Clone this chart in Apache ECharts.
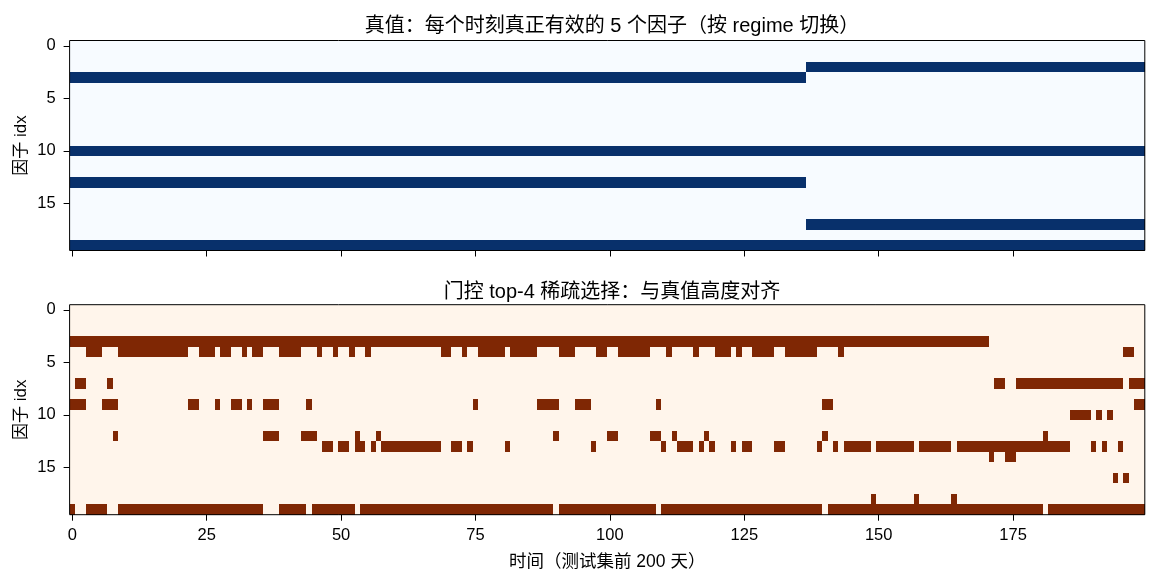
<!DOCTYPE html>
<html>
<head>
<meta charset="utf-8">
<title>regime gate heatmap</title>
<script src="https://cdn.jsdelivr.net/npm/echarts@6/dist/echarts.min.js"></script>
<style>
  html, body { margin: 0; padding: 0; background: #fff; }
  #chart { width: 1156px; height: 584px; }
</style>
</head>
<body>
<div id="chart"></div>
<script>
// ---- data ----
var nTime = 200;
var nFactor = 20;
var timeCategories = [];
for (var t = 0; t < nTime; t++) timeCategories.push(String(t));
var factorCategories = [];
for (var f = 0; f < nFactor; f++) factorCategories.push(String(f));

var xTickLabels = [0, 25, 50, 75, 100, 125, 150, 175];
var yTickLabels = [0, 5, 10, 15];

// ground truth: active factors before / after the regime switch
var truthSwitchAt = 137;
var truthFactorsBefore = [3, 10, 13, 19];
var truthFactorsAfter = [2, 10, 17, 19];

// gate selections, runs of [start, end] (inclusive) per factor row
var gateRow3 = [[0, 170]];
var gateRow4 = [[3, 5], [9, 21], [24, 26], [28, 29], [32, 32], [34, 35], [39, 42], [46, 46], [49, 49], [52, 52],
  [55, 55], [69, 70], [73, 73], [76, 80], [82, 86], [91, 93], [98, 99], [102, 107], [111, 111], [116, 116],
  [120, 122], [124, 124], [127, 130], [133, 138], [143, 143], [196, 197]];
var gateRow7 = [[1, 2], [7, 7], [172, 173], [176, 195], [197, 199]];
var gateRow9 = [[0, 2], [6, 8], [22, 23], [27, 27], [30, 31], [33, 33], [36, 38], [44, 44], [75, 75], [87, 90],
  [94, 96], [109, 109], [140, 141], [198, 199]];
var gateRow10 = [[186, 189], [191, 191], [193, 193]];
var gateRow12 = [[8, 8], [36, 38], [43, 45], [53, 53], [57, 57], [90, 90], [100, 101], [108, 109], [112, 112],
  [118, 118], [140, 140], [181, 181]];
var gateRow13 = [[47, 48], [50, 51], [53, 54], [56, 56], [58, 68], [71, 72], [74, 74], [81, 81], [97, 97],
  [110, 110], [113, 115], [117, 117], [119, 119], [123, 123], [125, 126], [131, 132], [139, 139], [142, 142],
  [144, 148], [150, 156], [158, 163], [165, 185], [190, 190], [192, 192], [195, 195]];
var gateRow14 = [[171, 171], [174, 175]];
var gateRow16 = [[194, 194], [196, 196]];
var gateRow18 = [[149, 149], [157, 157], [164, 164]];
var gateRow19 = [[0, 0], [3, 6], [9, 35], [39, 43], [45, 52], [54, 89], [91, 108], [110, 139], [141, 180], [182, 199]];

var gateRows = [
  [3, gateRow3], [4, gateRow4], [7, gateRow7], [9, gateRow9], [10, gateRow10], [12, gateRow12],
  [13, gateRow13], [14, gateRow14], [16, gateRow16], [18, gateRow18], [19, gateRow19]
];

// ---- build cell grids ----
function emptyGrid() {
  var g = [];
  for (var r = 0; r < nFactor; r++) {
    g.push([]);
    for (var c = 0; c < nTime; c++) g[r].push(0);
  }
  return g;
}

var truthGrid = emptyGrid();
for (var c = 0; c < nTime; c++) {
  var active = c < truthSwitchAt ? truthFactorsBefore : truthFactorsAfter;
  active.forEach(function (r) { truthGrid[r][c] = 1; });
}

var gateGrid = emptyGrid();
gateRows.forEach(function (row) {
  row[1].forEach(function (run) {
    for (var c = run[0]; c <= run[1]; c++) gateGrid[row[0]][c] = 1;
  });
});

function toCells(g) {
  var out = [];
  for (var r = 0; r < nFactor; r++)
    for (var c = 0; c < nTime; c++) out.push([c, r, g[r][c]]);
  return out;
}

// each cell is snapped to whole pixels so neighbouring cells share edges (no seams)
function cellRenderer(light, dark) {
  return function (params, api) {
    var p = api.coord([api.value(0), api.value(1)]);
    var s = api.size([1, 1]);
    var w = Math.abs(s[0]), h = Math.abs(s[1]);
    var x0 = Math.round(p[0] - w / 2), x1 = Math.round(p[0] + w / 2);
    var y0 = Math.round(p[1] - h / 2), y1 = Math.round(p[1] + h / 2);
    return {
      type: 'rect',
      shape: { x: x0, y: y0, width: x1 - x0, height: y1 - y0 },
      style: { fill: api.value(2) ? dark : light }
    };
  };
}

// ---- chart ----
var fontFamily = "'Liberation Sans', 'Noto Sans CJK SC', sans-serif";
var plotLeft = 69.6, plotRight = 11.2, plotHeight = 210;

function isTickX(i) { return xTickLabels.indexOf(i) >= 0; }
function isTickY(i) { return yTickLabels.indexOf(i) >= 0; }

function xAxisFor(gridIndex, withLabels) {
  return {
    type: 'category', gridIndex: gridIndex, data: timeCategories, z: 10,
    axisLine: { show: false },
    axisTick: { show: true, alignWithLabel: true, interval: isTickX, length: 6, lineStyle: { color: '#000', width: 1 } },
    axisLabel: { show: withLabels, interval: isTickX, margin: 12.5, color: '#000', fontSize: 16.5, fontFamily: fontFamily },
    splitLine: { show: false },
    name: withLabels ? '时间（测试集前 200 天）' : '',
    nameLocation: 'middle', nameGap: 39,
    nameTextStyle: { color: '#000', fontSize: 17.5, fontFamily: fontFamily }
  };
}

function yAxisFor(gridIndex) {
  return {
    type: 'category', gridIndex: gridIndex, data: factorCategories, inverse: true, z: 10,
    axisLine: { show: false },
    axisTick: { show: true, alignWithLabel: true, interval: isTickY, length: 6, lineStyle: { color: '#000', width: 1 } },
    axisLabel: { interval: isTickY, margin: 14, color: '#000', fontSize: 16.5, fontFamily: fontFamily },
    splitLine: { show: false },
    name: '因子 idx', nameLocation: 'middle', nameGap: 40, nameRotate: 90, nameMoveOverlap: false,
    nameTextStyle: { color: '#000', fontSize: 17, fontFamily: fontFamily }
  };
}

var chart = echarts.init(document.getElementById('chart'));
var option = {
  backgroundColor: '#fff',
  animation: false,
  title: [
    {
      text: '真值：每个时刻真正有效的 5 个因子（按 regime 切换）',
      left: 607, top: 11.5, textAlign: 'center',
      textStyle: { color: '#000', fontSize: 20, fontWeight: 'normal', fontFamily: fontFamily }
    },
    {
      text: '门控 top-4 稀疏选择：与真值高度对齐',
      left: 607, top: 277.5, textAlign: 'center',
      textStyle: { color: '#000', fontSize: 20, fontWeight: 'normal', fontFamily: fontFamily }
    }
  ],
  grid: [
    { left: plotLeft, right: plotRight, top: 40.5, height: plotHeight, show: true, z: 20,
      backgroundColor: 'transparent', borderColor: '#000', borderWidth: 1 },
    { left: plotLeft, right: plotRight, top: 304.7, height: plotHeight, show: true, z: 20,
      backgroundColor: 'transparent', borderColor: '#000', borderWidth: 1 }
  ],
  xAxis: [xAxisFor(0, false), xAxisFor(1, true)],
  yAxis: [yAxisFor(0), yAxisFor(1)],
  series: [
    { name: 'truth', type: 'custom', xAxisIndex: 0, yAxisIndex: 0,
      data: toCells(truthGrid), encode: { x: 0, y: 1 },
      renderItem: cellRenderer('#f7fbff', '#08306b'), silent: true },
    { name: 'gate', type: 'custom', xAxisIndex: 1, yAxisIndex: 1,
      data: toCells(gateGrid), encode: { x: 0, y: 1 },
      renderItem: cellRenderer('#fff5eb', '#7f2704'), silent: true }
  ]
};
chart.setOption(option);
</script>
</body>
</html>
